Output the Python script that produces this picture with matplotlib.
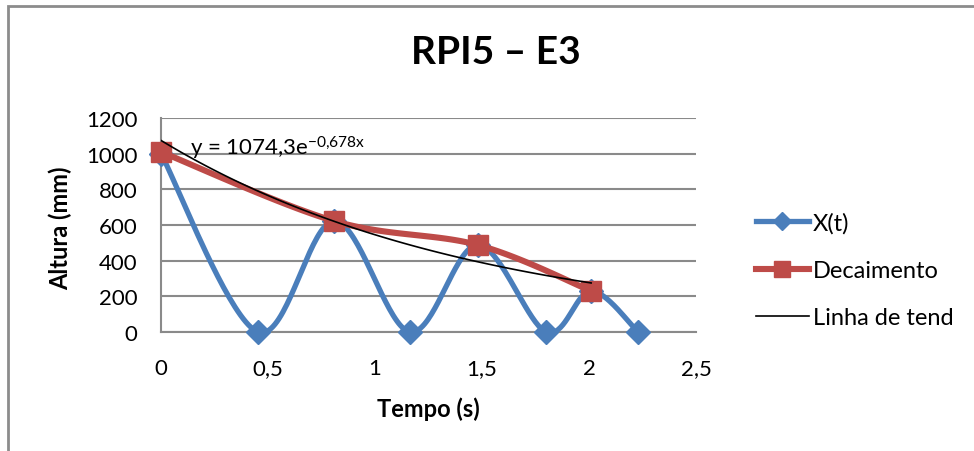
import numpy as np
import matplotlib
matplotlib.use("Agg")
import matplotlib.pyplot as plt
from matplotlib.patches import Rectangle
from matplotlib.lines import Line2D

plt.rcParams['font.family'] = ['Lato', 'DejaVu Sans']
plt.rcParams['mathtext.fontset'] = 'custom'
plt.rcParams['mathtext.rm'] = 'Lato'
plt.rcParams['mathtext.default'] = 'regular'

# data
t_x = [0, 0.453, 0.81, 1.164, 1.48, 1.80, 2.01, 2.229]
x_t = [1000, 0, 622, 0, 488, 0, 230, 0]
t_dec = [0, 0.81, 1.48, 2.01]
dec = [1010, 622, 488, 230]
trend_a, trend_b = 1074.3, -0.678
trend_end = 2.01
x_ticks = [0, 0.5, 1, 1.5, 2, 2.5]
x_ticklabels = ['0', '0,5', '1', '1,5', '2', '2,5']
labels = ['X(t)', 'Decaimento', 'Linha de tend']


def smooth(xs, ys, n=40):
    # catmull-rom style smoothing, like excel's "smoothed line"
    p = np.column_stack([xs, ys]).astype(float)
    p = np.vstack([p[0], p, p[-1]])
    out = []
    for i in range(1, len(p) - 2):
        p0, p1, p2, p3 = p[i - 1], p[i], p[i + 1], p[i + 2]
        c1 = p1 + (p2 - p0) / 6
        c2 = p2 - (p3 - p1) / 6
        s = np.linspace(0, 1, n)[:, None]
        seg = (1 - s) ** 3 * p1 + 3 * (1 - s) ** 2 * s * c1 + 3 * (1 - s) * s ** 2 * c2 + s ** 3 * p2
        out.append(seg)
    out = np.vstack(out)
    return out[:, 0], out[:, 1]


fig = plt.figure(figsize=(9.74, 4.52), dpi=100)
ax = fig.add_axes([0.1653, 0.2633, 0.5493, 0.4734])

blue = '#4A7EBB'
red = '#BE4B48'
sx, sy = smooth(t_x, x_t)
ax.plot(sx, sy, color=blue, lw=3.8, zorder=3, solid_capstyle='round')
ax.plot(t_x, x_t, ls='none', marker='D', ms=12, color=blue, zorder=4, clip_on=False)
rx, ry = smooth(t_dec, dec)
ax.plot(rx, ry, color=red, lw=4.4, zorder=5, solid_capstyle='round')
ax.plot(t_dec, dec, ls='none', marker='s', ms=14, color=red, zorder=6, clip_on=False)
tt = np.linspace(0, trend_end, 100)
ax.plot(tt, trend_a * np.exp(trend_b * tt), color='black', lw=1.2, zorder=7)

ax.set_xlim(0, 2.5)
ax.set_ylim(0, 1200)
ax.set_xticks(x_ticks)
ax.set_xticklabels(x_ticklabels)
ax.set_yticks(range(0, 1201, 200))
ax.tick_params(length=0, labelsize=16)
ax.tick_params(axis='y', pad=17)
ax.tick_params(axis='x', pad=19)
ax.grid(axis='y', color='#8a8a8a', lw=1.5)
ax.set_axisbelow(True)
for s in ['top', 'right']:
    ax.spines[s].set_visible(False)
for s in ['left', 'bottom']:
    ax.spines[s].set_color('#8a8a8a')
    ax.spines[s].set_linewidth(1.5)

fig.text(428 / 974, 1 - 409 / 452, 'Tempo (s)', fontsize=17, fontweight='bold', ha='center', va='center')
fig.text(60 / 974, 1 - 228 / 452, 'Altura (mm)', fontsize=17, fontweight='bold', ha='center', va='center',
         rotation=90)

ax.text(0.135, 1037, r'y = 1074,3e$^{-0{,}678x}$', fontsize=16, va='center', ha='left', zorder=8)

fig.text(0.509, 0.883, 'RPI5 – E3', fontsize=28, fontweight='bold', ha='center', va='center')

handles = [
    Line2D([], [], color=blue, lw=3.8, marker='D', ms=9),
    Line2D([], [], color=red, lw=4.4, marker='s', ms=12),
    Line2D([], [], color='black', lw=1.2),
]
fig.legend(handles, labels, loc='center left',
           bbox_to_anchor=(0.754, 0.400), frameon=False, fontsize=17,
           handlelength=2.25, handletextpad=0.17, labelspacing=1.12)

fig.patches.append(Rectangle((8 / 974, -0.1), 1.2, (452 - 6.5) / 452 + 0.1,
                             transform=fig.transFigure, fill=False,
                             edgecolor='#8c8c8c', lw=2))

fig.savefig('out.png', dpi=100)
